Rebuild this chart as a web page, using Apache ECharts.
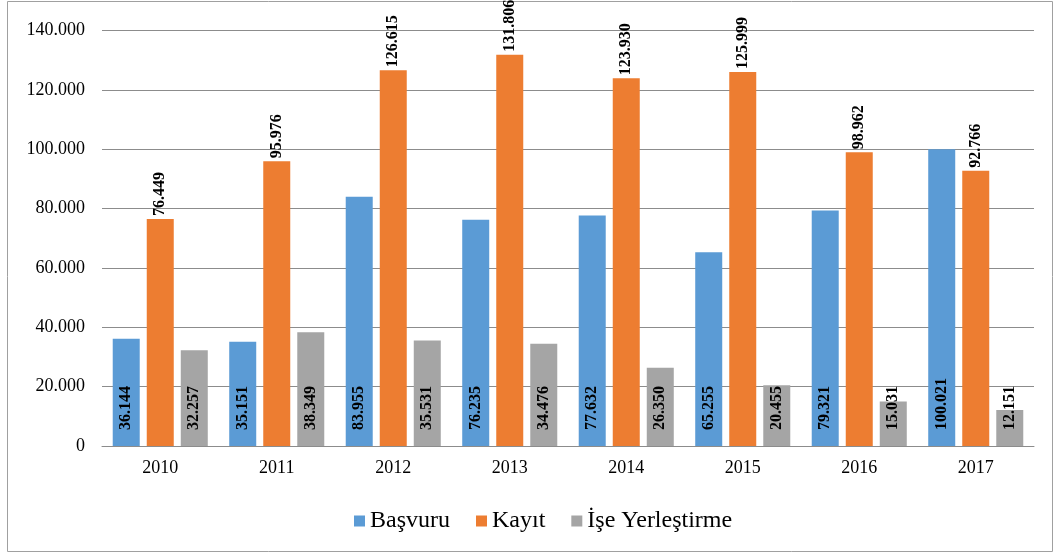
<!DOCTYPE html>
<html><head><meta charset="utf-8">
<script src="https://cdn.jsdelivr.net/npm/echarts@6/dist/echarts.min.js"></script>
<style>html,body{margin:0;padding:0;background:#fff}#c{width:1054px;height:553px}</style>
</head><body><div id="c"></div>
<script>
const years = ['2010','2011','2012','2013','2014','2015','2016','2017'];
const basvuru = [36144, 35151, 83955, 76235, 77632, 65255, 79321, 100021];
const kayit = [76449, 95976, 126615, 131806, 123930, 125999, 98962, 92766];
const ise = [32257, 38349, 35531, 34476, 26350, 20455, 15031, 12151];
const yTicks = [0, 20000, 40000, 60000, 80000, 100000, 120000, 140000];

const serif = 'Liberation Serif';
const fmt = v => v === 0 ? '0' : v.toLocaleString('de-DE');
const chart = echarts.init(document.getElementById('c'));
const inLabel = {show:true, position:'insideBottom', distance:16, rotate:90, align:'left', verticalAlign:'middle',
  fontFamily:serif, fontWeight:'bold', fontSize:16, color:'#000', formatter:p=>fmt(p.value)};
const topLabel = {show:true, position:'top', distance:3, rotate:90, align:'left', verticalAlign:'middle',
  fontFamily:serif, fontWeight:'bold', fontSize:16, color:'#000', formatter:p=>fmt(p.value)};
chart.setOption({
  animation:false,
  textStyle:{fontFamily:serif},
  graphic:[{type:'rect', shape:{x:7.5,y:1.5,width:1045,height:550}, style:{fill:'none', stroke:'#a0a0a0', lineWidth:1}}],
  color:['#5B9BD5','#ED7D31','#A5A5A5'],
  grid:{left:102, right:20, top:30.5, bottom:107},
  legend:{top:504, left:349, itemWidth:11, itemHeight:11, itemGap:26, icon:'rect',
    textStyle:{fontFamily:serif, fontSize:24, color:'#000'}},
  xAxis:{type:'category', data:years, axisTick:{show:false},
    axisLine:{lineStyle:{color:'#8c8c8c', width:1}},
    axisLabel:{fontFamily:serif, fontSize:18, color:'#000', margin:13}},
  yAxis:{type:'value', min:0, max:140000, interval:20000,
    axisLabel:{fontFamily:serif, fontSize:18, color:'#000', margin:17, formatter:v=>fmt(v)},
    splitLine:{lineStyle:{color:'#8c8c8c', width:1}}},
  series:[
    {name:'Başvuru', type:'bar', data:basvuru, barWidth:27, barGap:'26%', label:inLabel},
    {name:'Kayıt', type:'bar', data:kayit, barWidth:27, barGap:'26%', label:topLabel},
    {name:'İşe Yerleştirme', type:'bar', data:ise, barWidth:27, barGap:'26%', label:inLabel}
  ]
});
</script></body></html>
